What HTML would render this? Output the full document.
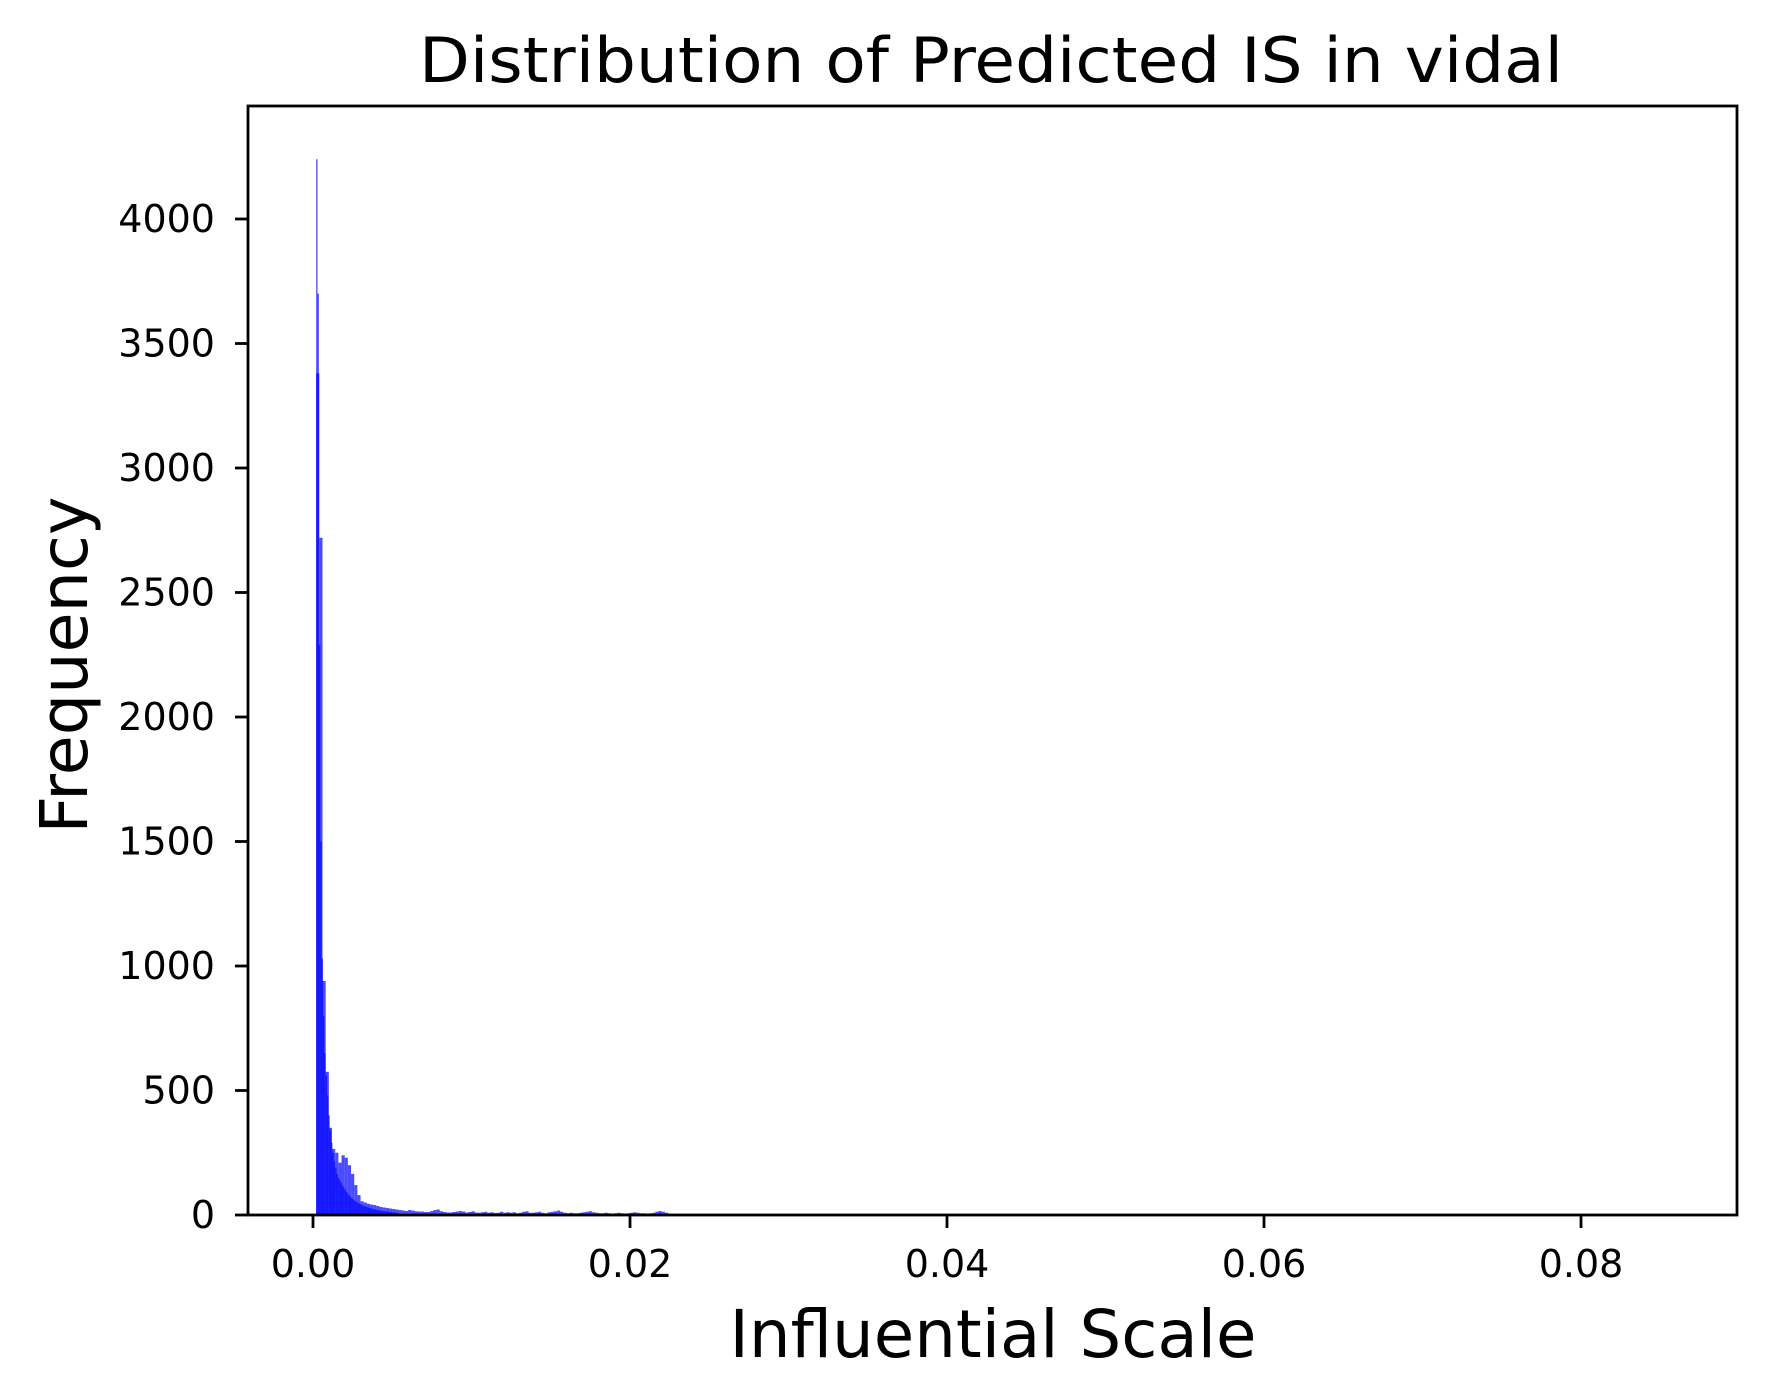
<!DOCTYPE html>
<html><head><meta charset="utf-8"><style>
html,body{margin:0;padding:0;background:#fff}
svg{display:block}
text{font-family:"DejaVu Sans","Liberation Sans",sans-serif;fill:#000}
</style></head><body>
<svg id="chart" width="1765" height="1399" viewBox="0 0 1765 1399" xmlns="http://www.w3.org/2000/svg">
<rect x="0" y="0" width="1765" height="1399" fill="#fff"/>
<text x="991" y="82" text-anchor="middle" font-size="62" textLength="1144" lengthAdjust="spacingAndGlyphs">Distribution of Predicted IS in vidal</text>
<g id="bars"></g>
<g id="axes"></g>
<text x="993" y="1357" text-anchor="middle" font-size="66" textLength="527" lengthAdjust="spacingAndGlyphs">Influential Scale</text>
<text transform="translate(87,665) rotate(-90)" text-anchor="middle" font-size="66" textLength="337" lengthAdjust="spacingAndGlyphs">Frequency</text>
</svg>
<script>
const xTicks = [0, 0.02, 0.04, 0.06, 0.08];
const xTickLabels = ["0.00", "0.02", "0.04", "0.06", "0.08"];
const yTicks = [0, 500, 1000, 1500, 2000, 2500, 3000, 3500, 4000];
const yTickLabels = ["0", "500", "1000", "1500", "2000", "2500", "3000", "3500", "4000"];
const fineBinStart = 0.0002;
const fineBinWidth = 0.0000855;
const fineCounts = [4240, 3700, 2290, 1500, 1030, 800, 650, 560, 480, 400, 340, 290, 250, 215, 190, 165, 150, 140, 130, 120, 110, 100, 92, 85, 78, 72, 66, 62, 58, 54, 50, 47, 44, 41, 38, 36, 34, 32, 30, 28, 26, 25, 24, 22, 21, 20, 19, 18, 17, 16, 15, 14, 14, 13, 12, 12, 11, 10, 10, 9];
const coarseBinStart = 0.0002;
const coarseBinWidth = 0.0002;
const coarseCounts = [3380, 2720, 940, 575, 350, 265, 250, 210, 240, 230, 200, 165, 120, 80, 55, 50, 45, 42, 40, 36, 32, 30, 28, 26, 24, 22, 20, 18, 16, 20, 18, 15, 14, 14, 12, 12, 16, 20, 22, 15, 12, 10, 10, 12, 14, 16, 14, 10, 12, 15, 10, 9, 11, 13, 9, 11, 8, 9, 13, 9, 11, 9, 11, 7, 9, 13, 15, 9, 9, 11, 13, 9, 7, 11, 13, 15, 18, 13, 9, 7, 9, 7, 7, 9, 11, 13, 15, 11, 9, 7, 7, 9, 7, 5, 7, 9, 7, 5, 7, 9, 11, 9, 7, 7, 5, 7, 9, 13, 16, 13, 9, 6, 4, 4, 5, 3, 3, 0, 2, 2];

const NS = "http://www.w3.org/2000/svg";
const plot = {left: 248, right: 1737, top: 106, bottom: 1215};
const xScale = v => 313 + v / 0.02 * 317;
const yScale = v => plot.bottom - v / 500 * 124.5;

const barsG = document.getElementById('bars');
function drawHist(counts, start, width, name) {
  counts.forEach((c, i) => {
    if (c <= 0) return;
    const x0 = xScale(start + i * width), x1 = xScale(start + (i + 1) * width);
    const r = document.createElementNS(NS, 'rect');
    r.setAttribute('x', x0);
    r.setAttribute('y', yScale(c));
    r.setAttribute('width', x1 - x0);
    r.setAttribute('height', plot.bottom - yScale(c));
    r.setAttribute('fill', 'rgba(0,0,255,0.7)');
    
    
    barsG.appendChild(r);
  });
}
drawHist(coarseCounts, coarseBinStart, coarseBinWidth, 'histogram-bar-coarse');
drawHist(fineCounts, fineBinStart, fineBinWidth, 'histogram-bar-fine');

const axesG = document.getElementById('axes');
const frame = document.createElementNS(NS, 'rect');
frame.setAttribute('x', plot.left);
frame.setAttribute('y', plot.top);
frame.setAttribute('width', plot.right - plot.left);
frame.setAttribute('height', plot.bottom - plot.top);
frame.setAttribute('fill', 'none');
frame.setAttribute('stroke', '#000');
frame.setAttribute('stroke-width', '2.8');


axesG.appendChild(frame);

xTicks.forEach((v, i) => {
  const x = xScale(v);
  const l = document.createElementNS(NS, 'line');
  l.setAttribute('x1', x); l.setAttribute('x2', x);
  l.setAttribute('y1', plot.bottom); l.setAttribute('y2', plot.bottom + 13);
  l.setAttribute('stroke', '#000'); l.setAttribute('stroke-width', '2.8');
  
  
  axesG.appendChild(l);
  const t = document.createElementNS(NS, 'text');
  t.setAttribute('x', x); t.setAttribute('y', 1277);
  t.setAttribute('text-anchor', 'middle'); t.setAttribute('font-size', '38');
  t.textContent = xTickLabels[i];
  
  
  axesG.appendChild(t);
});
yTicks.forEach((v, i) => {
  const y = yScale(v);
  const l = document.createElementNS(NS, 'line');
  l.setAttribute('x1', plot.left - 13); l.setAttribute('x2', plot.left);
  l.setAttribute('y1', y); l.setAttribute('y2', y);
  l.setAttribute('stroke', '#000'); l.setAttribute('stroke-width', '2.8');
  
  
  axesG.appendChild(l);
  const t = document.createElementNS(NS, 'text');
  t.setAttribute('x', 215); t.setAttribute('y', y + 13);
  t.setAttribute('text-anchor', 'end'); t.setAttribute('font-size', '38');
  t.textContent = yTickLabels[i];
  
  
  axesG.appendChild(t);
});
</script>
</body></html>
